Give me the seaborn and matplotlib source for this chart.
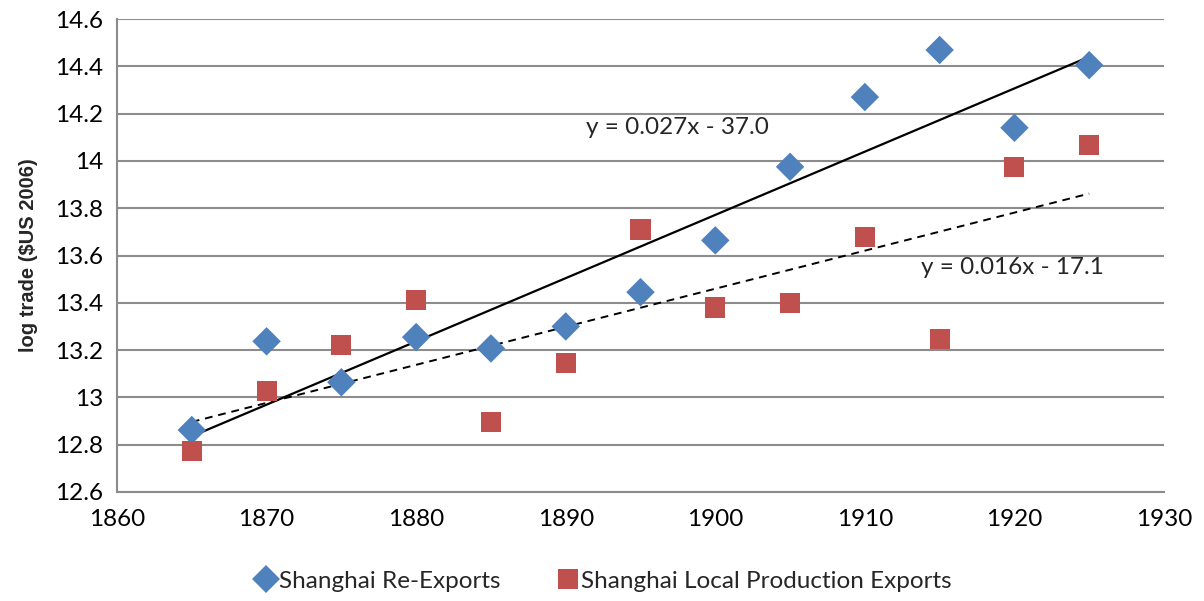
import numpy as np
import pandas as pd
import matplotlib
matplotlib.use("Agg")
import matplotlib.pyplot as plt
import seaborn as sns

# values
years = [1865, 1870, 1875, 1880, 1885, 1890, 1895, 1900, 1905, 1910, 1915, 1920, 1925]
re_exports = [12.862, 13.237, 13.064, 13.255, 13.207, 13.300, 13.445, 13.664,
              13.975, 14.270, 14.469, 14.140, 14.405]
local_exports = [12.774, 13.027, 13.221, 13.410, 12.895, 13.146, 13.710, 13.380,
                 13.398, 13.680, 13.246, 13.975, 14.066]
series_names = ["Shanghai Re-Exports", "Shanghai Local Production Exports"]
eq_labels = ["y = 0.027x - 37.0", "y = 0.016x - 17.1"]

blue = "#4F81BD"
red = "#C0504D"
grid_col = "#8C8C8C"

df = pd.DataFrame({
    "year": years * 2,
    "trade": re_exports + local_exports,
    "series": [series_names[0]] * len(years) + [series_names[1]] * len(years),
})

sns.set_style("white")
plt.rcParams["font.family"] = ["Lato", "DejaVu Sans"]

fig = plt.figure(figsize=(12.04, 6.01), dpi=100)
ax = fig.add_axes([117 / 1204, 1 - 492 / 601, (1164 - 117) / 1204, (492 - 19) / 601])

# trend lines first so markers sit on top
sns.regplot(x=years, y=re_exports, ax=ax, scatter=False, ci=None, truncate=True,
            line_kws=dict(color="black", lw=1.6, zorder=2))
sns.regplot(x=years, y=local_exports, ax=ax, scatter=False, ci=None, truncate=True,
            line_kws=dict(color="black", lw=1.4, ls=(0, (4, 3)), zorder=2))

sns.scatterplot(data=df, x="year", y="trade", hue="series", style="series",
                palette=[blue, red], markers=["D", "s"], hue_order=series_names,
                style_order=series_names, s=210, linewidth=0, ax=ax, zorder=3)

ax.set_xlim(1860, 1930)
ax.set_ylim(12.6, 14.6)
ax.set_xticks(np.arange(1860, 1931, 10))
ax.set_yticks(np.arange(12.6, 14.61, 0.2))
ax.set_yticklabels(["12.6", "12.8", "13", "13.2", "13.4", "13.6", "13.8",
                    "14", "14.2", "14.4", "14.6"])
ax.tick_params(axis="both", length=0, labelsize=17.5, colors="black")
ax.tick_params(axis="x", pad=12)
ax.tick_params(axis="y", pad=10)

ax.grid(axis="y", color=grid_col, lw=1.5)
ax.set_axisbelow(True)
for side in ["top", "right"]:
    ax.spines[side].set_visible(False)
for side in ["left", "bottom"]:
    ax.spines[side].set_color(grid_col)
    ax.spines[side].set_linewidth(1.5)

ax.set_xlabel("")
ax.set_ylabel("log trade ($US 2006)", fontsize=14.5, fontweight="bold",
              family="Liberation Sans", labelpad=12)

ax.text(1897.5, 14.14, eq_labels[0], fontsize=17.5, ha="center", va="center")
ax.text(1919.9, 13.55, eq_labels[1], fontsize=17.5, ha="center", va="center")

# move the legend below the plot, as in the original
handles, labels = ax.get_legend_handles_labels()
ax.legend_.remove()
for h in handles:
    h.set_markersize(14)
fig.legend(handles, labels, loc="center", bbox_to_anchor=(0.5, 1 - 581 / 601),
           ncol=2, frameon=False, fontsize=17.5, handletextpad=0.0,
           columnspacing=2.2, handlelength=1.1)

fig.savefig("out.png", dpi=100)
